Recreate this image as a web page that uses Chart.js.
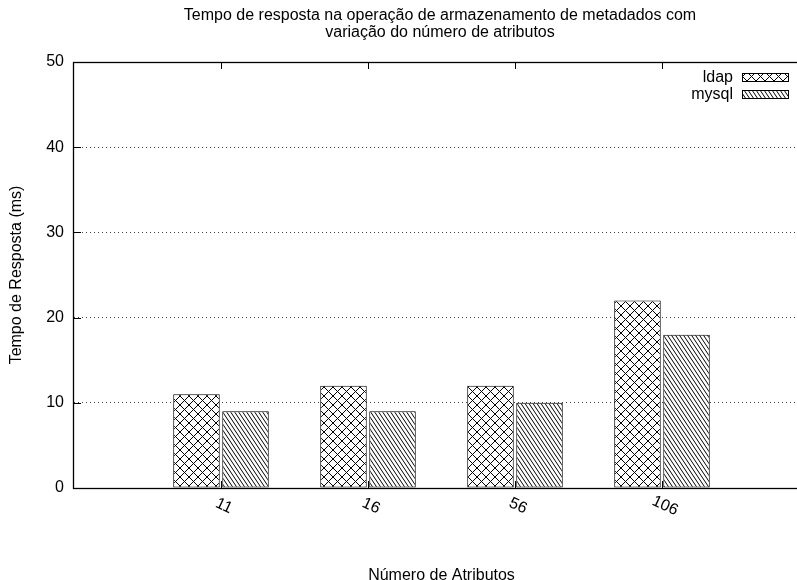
<!DOCTYPE html>
<html>
<head>
<meta charset="utf-8">
<script src="https://cdn.jsdelivr.net/npm/chart.js@4"></script>
<style>
  html, body { margin: 0; padding: 0; overflow: hidden; background: #fff; }
  #wrap { width: 880px; height: 600px; }
</style>
</head>
<body>
<div id="wrap"><canvas id="chart" width="880" height="600"></canvas></div>
<script>
const categories = ['11', '16', '56', '106'];
const ldapValues = [11, 12, 12, 22];
const mysqlValues = [9, 9, 10, 18];
const yTicks = [0, 10, 20, 30, 40, 50];
const titleLines = [
  'Tempo de resposta na operação de armazenamento de metadados com',
  'variação do número de atributos'
];

const canvas = document.getElementById('chart');
const ctx = canvas.getContext('2d');

// gnuplot-like fill patterns
function makePattern(kind) {
  const w = kind === 'cross' ? 9 : 8;
  const h = kind === 'cross' ? 9 : 12;
  const c = document.createElement('canvas');
  c.width = w; c.height = h;
  const g = c.getContext('2d');
  g.fillStyle = '#fff';
  g.fillRect(0, 0, w, h);
  g.fillStyle = '#000';
  if (kind === 'cross') {
    // crisp one-pixel diagonals both ways
    for (let i = 0; i < w; i++) {
      g.fillRect(i, i, 1, 1);
      g.fillRect(i, w - 1 - i, 1, 1);
    }
  } else {
    g.strokeStyle = '#000';
    g.lineWidth = 1;
    g.beginPath();
    for (const o of [-8, -4, 0, 4, 8]) {
      g.moveTo(o, 0); g.lineTo(o + w, h);
    }
    g.stroke();
  }
  return ctx.createPattern(c, 'repeat');
}

const ldapFill = makePattern('cross');
const mysqlFill = makePattern('stripe');

// empty slots at both ends so categories sit at 1..4 of a 0..5 range
const labels = ['', ...categories, ''];
const pad = arr => [null, ...arr, null];

const FONT = { family: "'Liberation Sans', Arial, sans-serif", size: 16 };
Chart.defaults.font.family = FONT.family;
Chart.defaults.font.size = 16;
Chart.defaults.color = '#000';

const framePlugin = {
  id: 'frame',
  afterDatasetsDraw(chart) {
    const { ctx, chartArea: a, scales } = chart;
    const x = scales.x, y = scales.y;
    ctx.save();
    ctx.strokeStyle = '#000';
    ctx.lineWidth = 1;
    // tick marks
    ctx.beginPath();
    yTicks.forEach(v => {
      const py = Math.round(y.getPixelForValue(v)) + 0.5;
      ctx.moveTo(a.left, py); ctx.lineTo(a.left + 7, py);
      ctx.moveTo(a.right, py); ctx.lineTo(a.right - 7, py);
    });
    categories.forEach((c, i) => {
      const px = Math.round(x.getPixelForValue(i + 1)) + 0.5;
      ctx.moveTo(px, a.bottom); ctx.lineTo(px, a.bottom - 7);
      ctx.moveTo(px, a.top); ctx.lineTo(px, a.top + 7);
    });
    ctx.stroke();
    // border
    ctx.lineWidth = 1.3;
    ctx.strokeRect(Math.round(a.left) - 0.5, Math.round(a.top) + 0.5,
      Math.round(a.right - a.left), Math.round(a.bottom - a.top));

    // rotated x labels
    ctx.font = `16px ${FONT.family}`;
    ctx.fillStyle = '#000';
    ctx.textAlign = 'center';
    ctx.textBaseline = 'middle';
    categories.forEach((c, i) => {
      const px = x.getPixelForValue(i + 1);
      ctx.save();
      ctx.translate(px + 3, a.bottom + 18);
      ctx.rotate(25 * Math.PI / 180);
      ctx.fillText(c, 0, 0);
      ctx.restore();
    });

    // legend (text right aligned, sample box on the right)
    chart.data.datasets.forEach((ds, i) => {
      const cy = 78 + i * 17;
      ctx.textAlign = 'right';
      ctx.fillText(ds.label, 733, cy);
      ctx.fillStyle = ds.backgroundColor;
      ctx.fillRect(742, cy - 4, 46, 8);
      ctx.lineWidth = 1;
      ctx.strokeRect(742.5, cy - 4.5, 46, 8);
      ctx.fillStyle = '#000';
    });
    ctx.restore();
  }
};

new Chart(ctx, {
  type: 'bar',
  data: {
    labels: labels,
    datasets: [
      {
        label: 'ldap',
        data: pad(ldapValues),
        backgroundColor: ldapFill,
        borderColor: '#000',
        borderWidth: 1,
        borderSkipped: false
      },
      {
        label: 'mysql',
        data: pad(mysqlValues),
        backgroundColor: mysqlFill,
        borderColor: '#000',
        borderWidth: 1,
        borderSkipped: false
      }
    ]
  },
  options: {
    responsive: false,
    animation: false,
    categoryPercentage: 0.667,
    barPercentage: 0.949,
    layout: { padding: 0 },
    plugins: {
      legend: { display: false },
      tooltip: { enabled: false },
      title: {
        display: true,
        text: titleLines,
        color: '#000',
        font: { size: 16, weight: 'normal', lineHeight: 1.0625 },
        padding: { top: 7.5, bottom: 20.5 }
      }
    },
    scales: {
      x: {
        offset: false,
        grid: { display: false },
        border: { display: false },
        ticks: { display: false },
        title: {
          display: true,
          text: 'Número de Atributos',
          color: '#000',
          font: { size: 16 },
          padding: { top: 0, bottom: 14.4 }
        },
        afterFit: s => { s.height = 112; }
      },
      y: {
        min: 0,
        max: 50,
        afterBuildTicks: s => { s.ticks = yTicks.map(v => ({ value: v })); },
        grid: { color: 'rgba(0,0,0,0.75)', lineWidth: 1, drawTicks: false },
        border: { display: false, dash: [1, 3] },
        ticks: { padding: 10, color: '#000', font: { size: 16 } },
        title: {
          display: true,
          text: 'Tempo de Resposta (ms)',
          color: '#000',
          font: { size: 16 },
          padding: { top: 7.4, bottom: 0 }
        },
        afterFit: s => { s.width = 74; }
      },
      // empty right-hand axis: only reserves the space beyond the window edge
      yRight: {
        position: 'right',
        grid: { display: false },
        border: { display: false },
        ticks: { display: false },
        afterFit: s => { s.width = 71; }
      }
    }
  },
  plugins: [framePlugin]
});
</script>
</body>
</html>
